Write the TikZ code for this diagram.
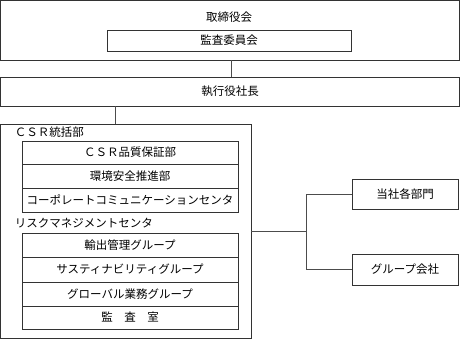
\documentclass[tikz,border=0pt]{standalone}
\usepackage{fontspec}
\setmainfont{Noto Sans CJK JP}
\usetikzlibrary{positioning}

\begin{document}
\begin{tikzpicture}[x=1pt, y=-1pt, line width=0.9pt,
    box/.style={draw=black!80, inner sep=0pt},
    unit/.style={box, minimum width=216pt},
    link/.style={draw=black!70},
    every node/.style={font=\fontsize{11.5}{13}\selectfont}]
    \useasboundingbox (0,0) rectangle (460,341);

    % board and its committee
    \node[box, minimum width=459pt, minimum height=59.5pt] (board) at (230,30.25) {};
    \node (boardlbl) at (229,17) {取締役会};
    \node[box, minimum width=244pt, minimum height=21pt] (audit) at (229,40.5) {監査委員会};

    \node[box, minimum width=459pt, minimum height=29pt] (ceo) at (230,91.5) {執行役社長};

    % group under the president
    \node[box, minimum width=250.5pt, minimum height=214pt] (grp) at (125.75,231) {};
    \node[anchor=west] (csrlbl) at (11,132) {ＣＳＲ統括部};
    \node[unit, minimum height=23pt] (quality) at (130,152.5) {ＣＳＲ品質保証部};
    \node[unit, minimum height=24pt] (safety) at (130,176) {環境安全推進部};
    \node[unit, minimum height=24pt] (comm) at (130,200) {コーポレートコミュニケーションセンタ};
    \node[anchor=west] (risklbl) at (11,223) {リスクマネジメントセンタ};
    \node[unit, minimum height=24pt] (export) at (130,245) {輸出管理グループ};
    \node[unit, minimum height=25pt] (sustain) at (130,269.5) {サスティナビリティグループ};
    \node[unit, minimum height=24pt] (global) at (130,294) {グローバル業務グループ};
    \node[unit, minimum height=23pt] (inspect) at (130,317.5) {監　査　室};

    \node[box, minimum width=106pt, minimum height=30pt] (dept) at (405,194) {当社各部門};
    \node[box, minimum width=106pt, minimum height=31pt] (subs) at (405,269.5) {グループ会社};

    % connectors
    \coordinate (drop) at (115,0);
    \coordinate (split) at (306,231);
    \draw[link] (board.south -| 231,0) -- (ceo.north -| 231,0);
    \draw[link] (ceo.south -| drop) -- (grp.north -| drop);
    \draw[link] (grp.east) -- (split);
    \draw[link] (split) |- (dept.west);
    \draw[link] (split) |- (subs.west);
\end{tikzpicture}
\end{document}
